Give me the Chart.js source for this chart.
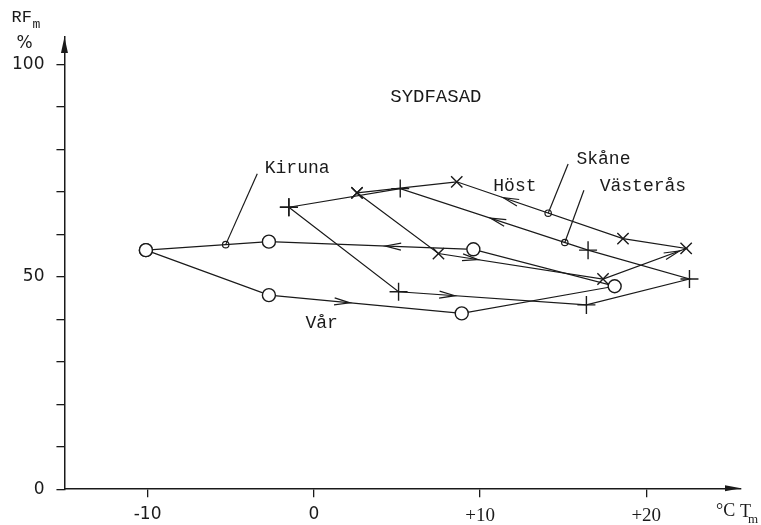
<!DOCTYPE html>
<html><head><meta charset="utf-8">
<script src="https://cdn.jsdelivr.net/npm/chart.js@4/dist/chart.umd.min.js"></script>
<style>html,body{margin:0;padding:0;background:#fff}#wrap{width:761px;height:525px}</style>
</head><body><div id="wrap"><canvas id="c" width="761" height="525"></canvas></div>
<script>
// ---- data (T_m in °C, RF_m in %) ----
const kirunaT   = [-10.1, -2.7, 8.9, 18.1, 9.6, -2.7, -10.1];
const kirunaRF  = [56.3, 45.7, 41.4, 47.8, 56.5, 58.3, 56.3];
const vasterasT = [-1.5, 5.1, 16.4, 22.6, 16.5, 5.2, -1.5];
const vasterasRF= [66.4, 46.5, 43.4, 49.5, 56.3, 70.8, 66.4];
const skaneT    = [2.6, 7.5, 17.4, 22.4, 18.6, 8.6, 2.6];
const skaneRF   = [69.8, 55.5, 49.5, 56.7, 59.0, 72.4, 69.8];
const anchorT   = [-5.3, 14.1, 15.1];
const anchorRF  = [57.6, 65.0, 58.1];
const xTicks = [-10, 0, 10, 20];
const yTicks = [0, 10, 20, 30, 40, 50, 60, 70, 80, 90, 100];
const yLabelled = [0, 50, 100];

const pts = (xs, ys) => xs.map((v, i) => ({x: v, y: ys[i]}));
const INK = '#1a1a1a';
const MONO = '"Liberation Mono", "DejaVu Sans Mono", monospace';
const SANS = '"DejaVu Sans", sans-serif';
const SERIF = '"Liberation Serif", "DejaVu Serif", serif';

// direction arrows: [segment index, fraction along segment]
const arrowsBySeries = [
  [[1, 0.42], [4, 0.43]],          // Kiruna
  [[1, 0.30], [4, 0.52]],          // Västerås
  [[1, 0.24], [2, 0.92], [4, 0.72]] // Skåne
];
// text annotations (data coords) with optional leader to an anchor
const notes = [
  {text: 'Kiruna',   at: [-2.95, 75.7], lead: [-3.4, 74.3], anchor: 0},
  {text: 'Skåne',    at: [15.8, 77.6],  lead: [15.3, 76.6], anchor: 1},
  {text: 'Västerås', at: [17.2, 71.4],  lead: [16.25, 70.4], anchor: 2},
  {text: 'Höst',     at: [10.8, 71.4]},
  {text: 'Vår',      at: [-0.5, 39.0]},
  {text: 'SYDFASAD', at: [4.6, 92.4]}
];

const overlay = {
  id: 'overlay',
  afterDatasetsDraw(chart) {
    const {ctx, scales: {x, y}, chartArea: ca} = chart;
    ctx.save();
    ctx.strokeStyle = INK; ctx.fillStyle = INK; ctx.lineWidth = 1.2;
    // direction arrows
    const series = [[kirunaT, kirunaRF], [vasterasT, vasterasRF], [skaneT, skaneRF]];
    series.forEach(([xs, ys], si) => {
      arrowsBySeries[si].forEach(([seg, f]) => {
        const x0 = x.getPixelForValue(xs[seg]), y0 = y.getPixelForValue(ys[seg]);
        const x1 = x.getPixelForValue(xs[seg+1]), y1 = y.getPixelForValue(ys[seg+1]);
        const px = x0 + (x1 - x0) * f, py = y0 + (y1 - y0) * f;
        const a = Math.atan2(y1 - y0, x1 - x0);
        const L = 16, w = 0.22;
        ctx.beginPath();
        ctx.moveTo(px - L*Math.cos(a - w), py - L*Math.sin(a - w));
        ctx.lineTo(px, py);
        ctx.lineTo(px - L*Math.cos(a + w), py - L*Math.sin(a + w));
        ctx.stroke();
      });
    });
    // annotations
    ctx.textBaseline = 'middle'; ctx.textAlign = 'left';
    notes.forEach(n => {
      ctx.font = (n.text === 'SYDFASAD' ? '19px ' : '18px ') + MONO;
      ctx.fillText(n.text, x.getPixelForValue(n.at[0]), y.getPixelForValue(n.at[1]));
      if (n.lead) {
        ctx.beginPath();
        ctx.moveTo(x.getPixelForValue(n.lead[0]), y.getPixelForValue(n.lead[1]));
        ctx.lineTo(x.getPixelForValue(anchorT[n.anchor]), y.getPixelForValue(anchorRF[n.anchor]));
        ctx.stroke();
      }
    });
    // axis arrowheads
    ctx.lineWidth = 1.5;
    ctx.beginPath();
    ctx.moveTo(ca.left, ca.top); ctx.lineTo(ca.left - 3.5, ca.top + 16); ctx.lineTo(ca.left + 3.5, ca.top + 16); ctx.closePath(); ctx.fill();
    ctx.beginPath();
    ctx.moveTo(ca.right, ca.bottom - 1); ctx.lineTo(ca.right - 16, ca.bottom - 4); ctx.lineTo(ca.right - 16, ca.bottom + 2); ctx.closePath(); ctx.fill();
    // axis titles
    ctx.textBaseline = 'alphabetic';
    ctx.font = '17px ' + MONO;
    ctx.fillText('RF', ca.left - 53, ca.top - 15);
    ctx.font = '13px ' + MONO; ctx.fillText('m', ca.left - 32, ca.top - 9);
    ctx.font = '17px ' + SANS; ctx.fillText('%', ca.left - 48, ca.top + 11);
    ctx.font = '18px ' + SERIF; ctx.fillText('°C', ca.right - 25, ca.bottom + 27);
    ctx.fillText('T', ca.right - 1, ca.bottom + 28);
    ctx.font = '13px ' + SERIF; ctx.fillText('m', ca.right + 7, ca.bottom + 34);
    ctx.restore();
  }
};

const lineDs = (label, data, style, radius) => ({
  label, data, showLine: true, tension: 0,
  borderColor: INK, borderWidth: 1.2,
  pointStyle: style, pointRadius: radius, pointHoverRadius: radius,
  pointBorderColor: INK, pointBackgroundColor: '#fff', pointBorderWidth: 1.4
});

new Chart(document.getElementById('c'), {
  type: 'scatter',
  data: {
    datasets: [
      lineDs('Kiruna', pts(kirunaT, kirunaRF), 'circle', 6.5),
      lineDs('Västerås', pts(vasterasT, vasterasRF), 'cross', 9),
      lineDs('Skåne', pts(skaneT, skaneRF), 'crossRot', 8),
      {label: 'anchors', data: pts(anchorT, anchorRF), showLine: false,
       pointStyle: 'circle', pointRadius: 3.2, pointBorderColor: INK,
       pointBackgroundColor: '#fff', pointBorderWidth: 1.2}
    ]
  },
  options: {
    responsive: false, animation: false, events: [],
    layout: {padding: {top: 37, right: 20, left: 0, bottom: -9}},
    plugins: {legend: {display: false}, tooltip: {enabled: false}},
    scales: {
      x: {
        type: 'linear', min: -15, max: 25.7,
        afterBuildTicks: s => { s.ticks = xTicks.map(v => ({value: v})); },
        grid: {display: true, drawOnChartArea: false, drawTicks: true, tickLength: 8, color: INK, lineWidth: 1.3},
        border: {display: true, color: INK, width: 1.5},
        ticks: {
          color: INK, padding: 7,
          font: c => ({family: (c.tick && c.tick.value > 0) ? SERIF : SANS, size: (c.tick && c.tick.value > 0) ? 19 : 17}),
          callback: v => v > 0 ? '+' + v : String(v)
        }
      },
      y: {
        type: 'linear', min: 0, max: 106.5,
        afterBuildTicks: s => { s.ticks = yTicks.map(v => ({value: v})); },
        grid: {display: true, drawOnChartArea: false, drawTicks: true, tickLength: 8, color: INK, lineWidth: 1.3},
        border: {display: true, color: INK, width: 1.5},
        ticks: {
          color: INK, padding: 12, font: {family: SANS, size: 17},
          callback: v => yLabelled.includes(v) ? String(v) : ''
        }
      }
    }
  },
  plugins: [overlay]
});
</script></body></html>
